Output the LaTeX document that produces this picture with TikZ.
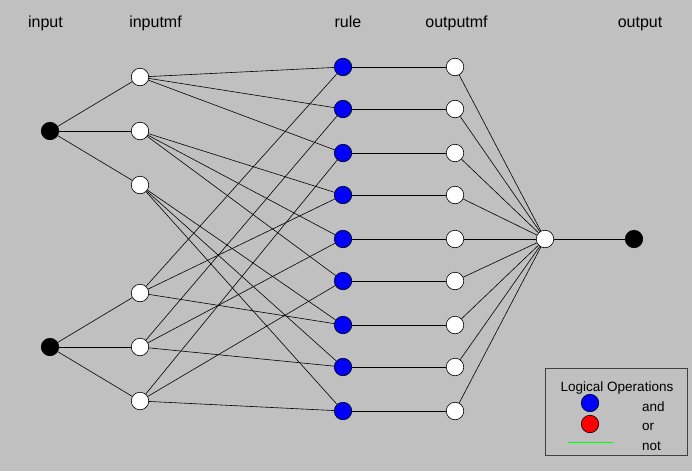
\documentclass[tikz,border=0pt]{standalone}
\usepackage{fontspec}
\setmainfont{Liberation Sans}
\begin{document}
\begin{tikzpicture}[x=1pt,y=-1pt,
  nd/.style={circle,draw=black,line width=0.6pt,minimum size=17.5pt,inner sep=0pt},
  blk/.style={nd,fill=black},
  wht/.style={nd,fill=white},
  blu/.style={nd,fill={rgb,255:red,0;green,0;blue,255}},
  red/.style={nd,fill={rgb,255:red,255;green,0;blue,0}},
  lbl/.style={font=\fontsize{16}{18}\selectfont,inner sep=0pt,anchor=base},
  leg/.style={font=\fontsize{13.5}{15}\selectfont,inner sep=0pt},
  edge/.style={draw=black,line width=0.6pt}]
\fill[fill={rgb,255:red,192;green,192;blue,192}] (0,0) rectangle (692,471);
\useasboundingbox (0,0) rectangle (692,471);
% titles
\node[lbl] (t1) at (45.5,27) {input};
\node[lbl] (t2) at (155.5,27) {inputmf};
\node[lbl] (t3) at (348,27) {rule};
\node[lbl] (t4) at (456.5,27) {outputmf};
\node[lbl] (t5) at (640,27) {output};
% inputs
\node[blk] (in1) at (50,131) {};
\node[blk] (in2) at (50,347) {};
% input mfs
\foreach \i/\y in {1/77,2/131,3/185,4/293,5/347,6/401}
  \node[wht] (mf\i) at (140,\y) {};
% rules and output mfs
\foreach \i/\y in {1/67,2/109,3/153,4/195,5/239,6/281,7/325,8/367,9/411}{
  \node[blu] (r\i) at (343,\y) {};
  \node[wht] (om\i) at (455,\y) {};
}
\node[wht] (sum) at (545,239) {};
\node[blk] (out) at (634,239) {};
% edges
\foreach \i in {1,2,3} \draw[edge] (in1) -- (mf\i);
\foreach \i in {4,5,6} \draw[edge] (in2) -- (mf\i);
\foreach \r/\a/\b in {1/1/4,2/1/5,3/1/6,4/2/4,5/2/5,6/2/6,7/3/4,8/3/5,9/3/6}{
  \draw[edge] (mf\a) -- (r\r);
  \draw[edge] (mf\b) -- (r\r);
  \draw[edge] (r\r) -- (om\r);
  \draw[edge] (om\r) -- (sum);
}
\draw[edge] (sum) -- (out);
% legend
\draw[draw={rgb,255:red,64;green,64;blue,64},line width=0.8pt] (545,368) rectangle (687,455);
\node[leg] (lt) at (617,388) {Logical Operations};
\node[blu] (lb) at (590,403) {};
\node[red] (lr) at (590,424) {};
\coordinate (g1) at (568,442);
\coordinate (g2) at (613,442);
\draw[draw={rgb,255:red,0;green,255;blue,0},line width=1pt] (g1) -- (g2);
\node[leg,anchor=west] (la) at (642,407) {and};
\node[leg,anchor=west] (lo) at (642,427) {or};
\node[leg,anchor=west] (ln) at (642,446) {not};
\end{tikzpicture}
\end{document}
